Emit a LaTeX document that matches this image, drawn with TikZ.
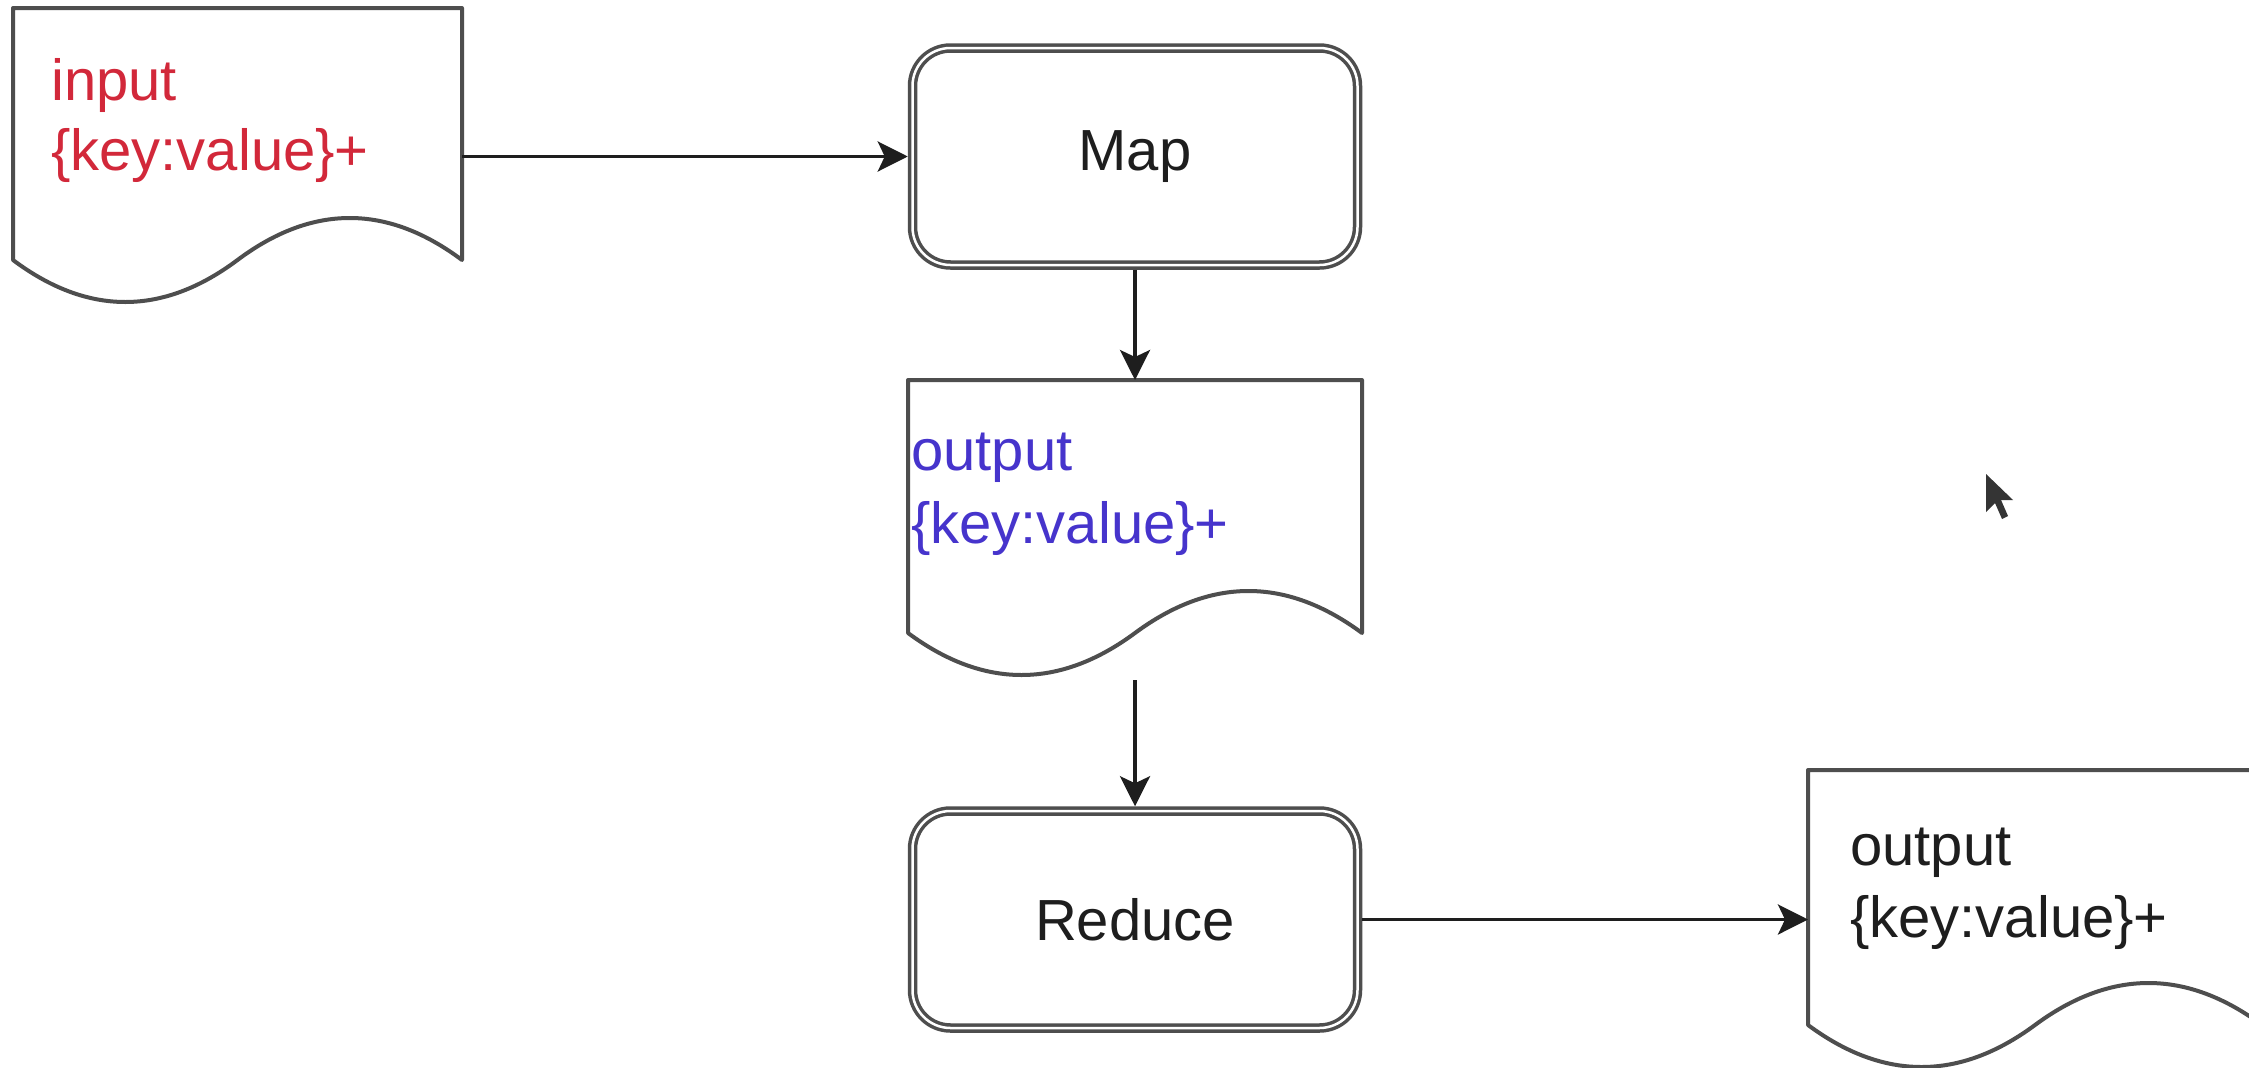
\documentclass[tikz,border=0pt]{standalone}
\usepackage{fontspec}
\setmainfont{Liberation Sans}
\usetikzlibrary{arrows.meta,calc}

\definecolor{inred}{RGB}{210,40,58}
\definecolor{outblue}{RGB}{70,52,204}
\definecolor{edge}{RGB}{78,78,78}
\definecolor{ink}{RGB}{30,30,30}

% outline of a flowchart "document" shape drawn round an empty node
\newcommand\docwave[1]{%
  \draw[docline] (#1.south east) -- (#1.north east) -- (#1.north west) -- (#1.south west)
    .. controls ($(#1.south west)!1/6!(#1.south east)+(0,56)$) and ($(#1.south west)!2/6!(#1.south east)+(0,56)$)
    .. ($(#1.south west)!0.5!(#1.south east)$)
    .. controls ($(#1.south west)!4/6!(#1.south east)+(0,-56)$) and ($(#1.south west)!5/6!(#1.south east)+(0,-56)$)
    .. (#1.south east) -- cycle;}

\tikzset{
  docbox/.style={draw=none, inner sep=0pt, outer sep=0pt},
  docline/.style={draw=edge, line width=4pt, line join=round, fill=white},
  procbox/.style={draw=edge, double=white, double distance=2.5pt, line width=3.5pt,
    rounded corners=38pt, minimum width=445pt, minimum height=217pt,
    inner sep=0pt, outer sep=4.75pt, text=ink, font=\fontsize{58}{70}\selectfont},
  txt/.style={anchor=base west, inner sep=0pt, font=\fontsize{58}{70}\selectfont},
  flow/.style={draw=ink, line width=3.5pt, -{Stealth[length=30pt,width=30pt,inset=7pt]}},
}

\begin{document}
\begin{tikzpicture}[x=1pt,y=-1pt]
  \useasboundingbox (0,0) rectangle (2249,1068);
  \clip (0,0) rectangle (2249,1068);
  \fill[white] (0,0) rectangle (2249,1068);

  % input records
  \node[docbox, minimum width=449pt, minimum height=252pt] (input) at (237.5,134) {};
  \docwave{input}
  \node[txt, text=inred] (inputl1) at (51,100) {input};
  \node[txt, text=inred] (inputl2) at (51,170) {\{key:value\}+};

  % map step
  \node[procbox] (map) at (1135,156.5) {Map};

  % intermediate output
  \node[docbox, minimum width=454pt, minimum height=253pt] (mid) at (1135,506.5) {};
  \docwave{mid}
  \node[txt, text=outblue] (midl1) at (911,470) {output};
  \node[txt, text=outblue] (midl2) at (911,543) {\{key:value\}+};

  % reduce step
  \node[procbox] (reduce) at (1135,919.5) {Reduce};

  % final output
  \node[docbox, minimum width=454pt, minimum height=255pt] (result) at (2035,897.5) {};
  \docwave{result}
  \node[txt, text=ink] (resl1) at (1850,865) {output};
  \node[txt, text=ink] (resl2) at (1850,937) {\{key:value\}+};

  % flow
  \draw[flow] (input.east |- map.west) -- (map.west);
  \draw[flow] (map.south) -- (mid.north);
  \draw[flow] ([yshift=-47pt]mid.south) -- (reduce.north);
  \draw[flow] (reduce.east) -- (result.west |- reduce.east);

  % mouse pointer
  \fill[ink, opacity=0.9] (1986,474) -- (1986,512) -- (1995,503) -- (2002,519)
    -- (2008,516) -- (2001,500) -- (2013,500) -- cycle;
\end{tikzpicture}
\end{document}
